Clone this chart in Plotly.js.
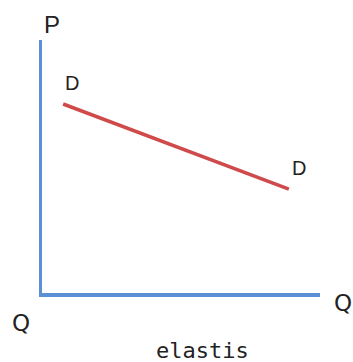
<!DOCTYPE html>
<html>
<head>
<meta charset="utf-8">
<script src="https://cdn.plot.ly/plotly-3.0.1.min.js"></script>
<style>
  html, body { margin: 0; padding: 0; background: #fff; }
  #chart { width: 353px; height: 362px; }
</style>
</head>
<body>
<div id="chart"></div>
<script>
// Demand curve D: quantity vs price (axis units 0-10)
const demandQ = [0.76, 8.88];
const demandP = [7.47, 4.11];
const demandLabels = ['D', 'D'];

const axisColor = '#5b8fd6';
const lineColor = '#cf4a4a';
const textColor = '#222222';

const trace = {
  x: demandQ,
  y: demandP,
  mode: 'lines',
  line: { color: lineColor, width: 3.5 },
  hoverinfo: 'skip',
  showlegend: false
};

const labelFont = { family: 'Liberation Sans, Arial, sans-serif', size: 20, color: textColor };
const qFont = { family: 'DejaVu Sans, sans-serif', size: 23, color: textColor };

function paperLabel(x, y, text, font) {
  return { x: x, y: y, xref: 'paper', yref: 'paper', text: text, showarrow: false,
           xanchor: 'center', yanchor: 'middle', font: font };
}

const annotations = [
  // D labels next to each end of the curve
  { x: demandQ[0], y: demandP[0], xref: 'x', yref: 'y', text: demandLabels[0],
    showarrow: false, xshift: 9, yshift: 21, font: labelFont },
  { x: demandQ[1], y: demandP[1], xref: 'x', yref: 'y', text: demandLabels[1],
    showarrow: false, xshift: 10, yshift: 21, font: labelFont },
  // axis labels
  paperLabel(0.036, 1.063, 'P', { family: 'Liberation Sans, Arial, sans-serif', size: 24, color: textColor }),
  paperLabel(-0.0755, -0.12, 'Q', qFont),
  paperLabel(1.083, -0.04, 'Q', qFont),
  paperLabel(0.576, -0.229, 'elastis', { family: 'DejaVu Sans Mono, monospace', size: 22, color: textColor })
];

const hiddenAxis = {
  range: [0, 10],
  showgrid: false,
  zeroline: false,
  showticklabels: false,
  ticks: '',
  showline: true,
  linecolor: axisColor,
  linewidth: 3.5,
  fixedrange: true
};

const layout = {
  width: 353,
  height: 362,
  margin: { l: 42, r: 33, t: 40, b: 69 },
  paper_bgcolor: '#ffffff',
  plot_bgcolor: '#ffffff',
  xaxis: Object.assign({}, hiddenAxis),
  yaxis: Object.assign({}, hiddenAxis),
  annotations: annotations,
  showlegend: false
};

Plotly.newPlot('chart', [trace], layout, { displayModeBar: false, staticPlot: true });
</script>
</body>
</html>
